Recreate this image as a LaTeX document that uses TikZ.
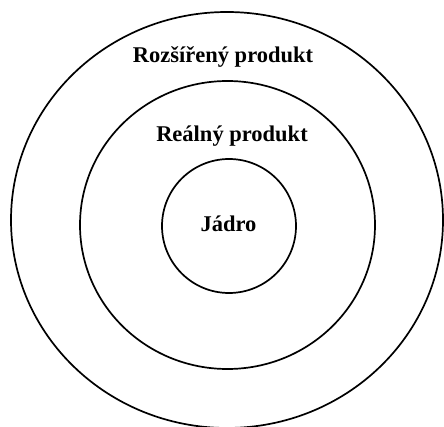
\documentclass[tikz,border=0pt]{standalone}
\usepackage{fontspec}
\setmainfont{Liberation Serif}
\usetikzlibrary{shapes.geometric}
\begin{document}
\begin{tikzpicture}[x=1pt,y=1pt,
  ring/.style={draw=black, line width=1.7pt, ellipse, inner sep=0pt},
  label/.style={anchor=base, font=\fontsize{22.5}{26}\selectfont\bfseries, inner sep=0pt}]
  \useasboundingbox (0,0) rectangle (444,426);
  \clip (0,0) rectangle (444,426);
  % concentric layers of the product
  \node[ring, minimum width=432pt, minimum height=416pt] (outer) at (227,206) {};
  \node[ring, minimum width=295pt, minimum height=288pt] (middle) at (227.5,201) {};
  \node[ring, minimum width=134pt, minimum height=134pt] (core) at (229,200) {};
  % layer names
  \node[label] (tOuter) at (223,363) {Rozšířený produkt};
  \node[label] (tMiddle) at (232,284) {Reálný produkt};
  \node[label] (tCore) at (228.5,194) {Jádro};
\end{tikzpicture}
\end{document}
